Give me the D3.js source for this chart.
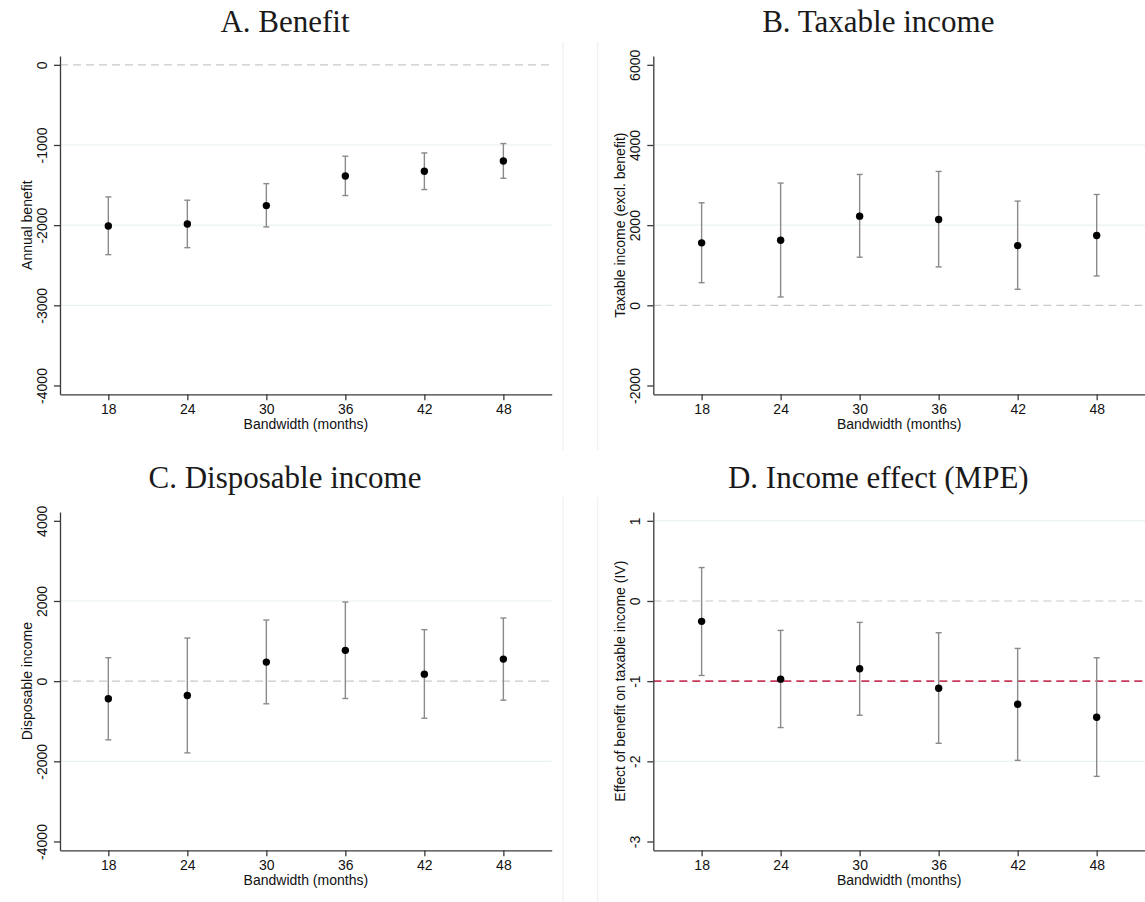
<!DOCTYPE html>
<html>
<head>
<meta charset="utf-8">
<script src="https://cdn.jsdelivr.net/npm/d3@7"></script>
<style>
  html, body { margin: 0; padding: 0; background: #ffffff; }
  svg { display: block; }
</style>
</head>
<body>
<svg id="chart" width="1145" height="902"></svg>
<script>
// Bandwidths (months) shared by every panel
const bandwidths = [18, 24, 30, 36, 42, 48];

// A. Benefit: point estimates and 95% CI bounds
const benefitEst = [-2010, -1985, -1756, -1386, -1327, -1199];
const benefitLo  = [-2368, -2281, -2022, -1631, -1556, -1415];
const benefitHi  = [-1648, -1689, -1482, -1140, -1099, -982];
const benefitTicks = [0, -1000, -2000, -3000, -4000];

// B. Taxable income (excl. benefit)
const taxableEst = [1558, 1625, 2225, 2140, 1490, 1740];
const taxableLo  = [565, 208, 1200, 958, 400, 733];
const taxableHi  = [2558, 3050, 3265, 3340, 2600, 2765];
const taxableTicks = [6000, 4000, 2000, 0, -2000];

// C. Disposable income
const dispEst = [-440, -358, 475, 768, 175, 550];
const dispLo  = [-1465, -1790, -565, -433, -925, -475];
const dispHi  = [585, 1075, 1525, 1975, 1285, 1575];
const dispTicks = [4000, 2000, 0, -2000, -4000];

// D. Income effect (MPE), IV estimates
const mpeEst = [-0.254, -0.975, -0.846, -1.088, -1.288, -1.45];
const mpeLo  = [-0.929, -1.579, -1.425, -1.775, -1.988, -2.188];
const mpeHi  = [0.417, -0.367, -0.267, -0.396, -0.592, -0.708];
const mpeTicks = [1, 0, -1, -2, -3];

const panels = [
  { title: "A. Benefit", ylabel: "Annual benefit", est: benefitEst, lo: benefitLo, hi: benefitHi,
    ticks: benefitTicks, ymin: -4000, ymax: 0, grid: [-1000, -2000, -3000], ref: null,
    ox: 0, oy: 0 },
  { title: "B. Taxable income", ylabel: "Taxable income (excl. benefit)", est: taxableEst, lo: taxableLo, hi: taxableHi,
    ticks: taxableTicks, ymin: -2000, ymax: 6000, grid: [4000, 2000], ref: null,
    ox: 593.3, oy: 0 },
  { title: "C. Disposable income", ylabel: "Disposable income", est: dispEst, lo: dispLo, hi: dispHi,
    ticks: dispTicks, ymin: -4000, ymax: 4000, grid: [2000, -2000], ref: null,
    ox: 0, oy: 456 },
  { title: "D. Income effect (MPE)", ylabel: "Effect of benefit on taxable income (IV)", est: mpeEst, lo: mpeLo, hi: mpeHi,
    ticks: mpeTicks, ymin: -3, ymax: 1, grid: [1, -2], ref: -1,
    ox: 593.3, oy: 456 }
];

const svg = d3.select("#chart");

// Faint borders of the individual graph regions
const borders = [
  [563, 42, 563, 450], [597.7, 42, 597.7, 450],
  [563, 497, 563, 902], [597.7, 497, 597.7, 902]
];
svg.selectAll("line.border").data(borders).join("line")
  .attr("class", "border")
  .attr("x1", d => d[0]).attr("y1", d => d[1])
  .attr("x2", d => d[2]).attr("y2", d => d[3])
  .attr("stroke", "#ededed").attr("stroke-width", 1);

const plotLeft = 60, plotRight = 551.7, plotTop = 56, plotBottom = 394.3;
const sansFont = "'Liberation Sans', Arial, sans-serif";
// plain hyphen-minus for negative tick labels
const plainNumber = d => String(d);

panels.forEach(p => {
  const g = svg.append("g").attr("transform", `translate(${p.ox},${p.oy})`);

  const x = d3.scaleLinear().domain([14.33, 51.67]).range([plotLeft, plotRight]);
  const pad = (p.ymax - p.ymin) * 0.0275;
  const y = d3.scaleLinear().domain([p.ymin - pad, p.ymax + pad]).range([plotBottom, plotTop]);

  // Title
  g.append("text")
    .attr("x", 285).attr("y", 31.5)
    .attr("text-anchor", "middle")
    .attr("font-family", "'Liberation Serif', 'Times New Roman', serif")
    .attr("font-size", 31)
    .attr("fill", "#1a1a1a")
    .text(p.title);

  // Horizontal gridlines
  g.selectAll("line.grid").data(p.grid).join("line")
    .attr("class", "grid")
    .attr("x1", plotLeft).attr("x2", plotRight)
    .attr("y1", d => y(d)).attr("y2", d => y(d))
    .attr("stroke", "#e6eeee").attr("stroke-width", 1);

  // Zero reference line
  g.append("line")
    .attr("x1", plotLeft).attr("x2", plotRight)
    .attr("y1", y(0)).attr("y2", y(0))
    .attr("stroke", "#c9c9c9").attr("stroke-width", 1.2)
    .attr("stroke-dasharray", "8,5");

  // Optional reference line (MPE = -1)
  if (p.ref !== null) {
    g.append("line")
      .attr("x1", plotLeft).attr("x2", plotRight)
      .attr("y1", y(p.ref)).attr("y2", y(p.ref))
      .attr("stroke", "#c83a5c").attr("stroke-width", 1.6)
      .attr("stroke-dasharray", "8,5");
  }

  // Axes
  const yAxis = g.append("g")
    .attr("transform", `translate(${plotLeft},0)`)
    .call(d3.axisLeft(y).tickValues(p.ticks).tickSize(6).tickSizeOuter(0).tickFormat(plainNumber));
  yAxis.attr("font-family", sansFont).attr("font-size", 14).attr("color", "#3a3a3a");
  yAxis.selectAll(".tick text")
    .attr("x", null).attr("dy", null)
    .attr("transform", "translate(-13.3,0) rotate(-90)")
    .attr("text-anchor", "middle")
    .attr("fill", "#111");
  yAxis.selectAll("path, line").attr("stroke-width", 1.3);

  const xAxis = g.append("g")
    .attr("transform", `translate(0,${plotBottom})`)
    .call(d3.axisBottom(x).tickValues(bandwidths).tickSize(6).tickSizeOuter(0).tickPadding(4).tickFormat(plainNumber));
  xAxis.attr("font-family", sansFont).attr("font-size", 14).attr("color", "#3a3a3a");
  xAxis.selectAll(".tick text").attr("fill", "#111");
  xAxis.selectAll("path, line").attr("stroke-width", 1.3);

  // Axis titles
  g.append("text")
    .attr("x", (plotLeft + plotRight) / 2).attr("y", 429)
    .attr("text-anchor", "middle")
    .attr("font-family", sansFont).attr("font-size", 14)
    .attr("fill", "#111")
    .text("Bandwidth (months)");

  g.append("text")
    .attr("transform", `translate(32,${(plotTop + plotBottom) / 2}) rotate(-90)`)
    .attr("text-anchor", "middle")
    .attr("font-family", sansFont).attr("font-size", 14)
    .attr("fill", "#111")
    .text(p.ylabel);

  // Confidence intervals with caps
  const rows = bandwidths.map((b, i) => ({ b, est: p.est[i], lo: p.lo[i], hi: p.hi[i] }));
  const ci = g.append("g").attr("stroke", "#8a8a8a").attr("stroke-width", 1.4);
  ci.selectAll("line.v").data(rows).join("line")
    .attr("class", "v")
    .attr("x1", d => x(d.b)).attr("x2", d => x(d.b))
    .attr("y1", d => y(d.lo)).attr("y2", d => y(d.hi));
  ci.selectAll("line.capHi").data(rows).join("line")
    .attr("class", "capHi")
    .attr("x1", d => x(d.b) - 3).attr("x2", d => x(d.b) + 3)
    .attr("y1", d => y(d.hi)).attr("y2", d => y(d.hi));
  ci.selectAll("line.capLo").data(rows).join("line")
    .attr("class", "capLo")
    .attr("x1", d => x(d.b) - 3).attr("x2", d => x(d.b) + 3)
    .attr("y1", d => y(d.lo)).attr("y2", d => y(d.lo));

  // Point estimates
  g.selectAll("circle.pt").data(rows).join("circle")
    .attr("class", "pt")
    .attr("cx", d => x(d.b)).attr("cy", d => y(d.est))
    .attr("r", 3.7)
    .attr("fill", "#000");
});
</script>
</body>
</html>
